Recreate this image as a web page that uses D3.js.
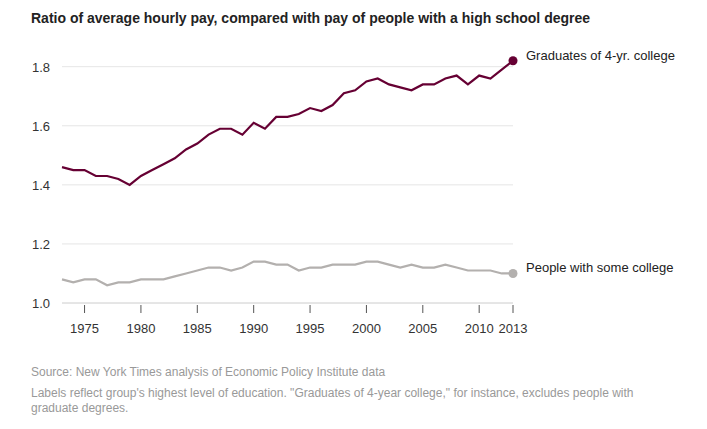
<!DOCTYPE html>
<html><head><meta charset="utf-8">
<script src="https://cdn.jsdelivr.net/npm/d3@7"></script>
<style>body{margin:0;background:#fff;font-family:Arial,"Liberation Sans",sans-serif;}</style>
</head><body><div id="chart"></div>
<script>
const years = d3.range(1973, 2014);
const college = [1.46,1.45,1.45,1.43,1.43,1.42,1.40,1.43,1.45,1.47,1.49,1.52,1.54,1.57,1.59,1.59,1.57,1.61,1.59,1.63,1.63,1.64,1.66,1.65,1.67,1.71,1.72,1.75,1.76,1.74,1.73,1.72,1.74,1.74,1.76,1.77,1.74,1.77,1.76,1.79,1.82];
const someCollege = [1.08,1.07,1.08,1.08,1.06,1.07,1.07,1.08,1.08,1.08,1.09,1.10,1.11,1.12,1.12,1.11,1.12,1.14,1.14,1.13,1.13,1.11,1.12,1.12,1.13,1.13,1.13,1.14,1.14,1.13,1.12,1.13,1.12,1.12,1.13,1.12,1.11,1.11,1.11,1.10,1.10];
const xTicks = [1975,1980,1985,1990,1995,2000,2005,2010,2013];
const yTicks = [1.0,1.2,1.4,1.6,1.8];

const svg = d3.select("#chart").append("svg").attr("width",707).attr("height",429);
const x = d3.scaleLinear().domain([1973,2013]).range([62,513]);
const y = d3.scaleLinear().domain([1.0,1.8]).range([303,66.7]);

svg.append("text").attr("x",31).attr("y",23).attr("font-size",14).attr("font-weight","bold")
  .attr("fill","#222").text("Ratio of average hourly pay, compared with pay of people with a high school degree");

yTicks.forEach(t => {
  svg.append("line").attr("x1",62).attr("x2",513).attr("y1",y(t)).attr("y2",y(t))
    .attr("stroke", t===1.0 ? "#ccc" : "#e6e6e6").attr("stroke-width",1);
  svg.append("text").attr("x",32).attr("y",y(t)+5).attr("font-size",13).attr("fill","#333").text(t.toFixed(1));
});
xTicks.forEach(t => {
  svg.append("line").attr("x1",x(t)).attr("x2",x(t)).attr("y1",305).attr("y2",313).attr("stroke","#555");
  svg.append("text").attr("x",x(t)).attr("y",333).attr("text-anchor","middle").attr("font-size",13).attr("fill","#333").text(t);
});

const line = d3.line().x((d,i)=>x(years[i])).y(d=>y(d));
const series = [
  {vals: someCollege, color:"#b3b0ae", label:"People with some college"},
  {vals: college, color:"#660033", label:"Graduates of 4-yr. college"}
];
series.forEach(s => {
  svg.append("path").datum(s.vals).attr("d",line).attr("fill","none").attr("stroke",s.color).attr("stroke-width",2.2);
  const last = s.vals[s.vals.length-1];
  svg.append("circle").attr("cx",x(2013)).attr("cy",y(last)).attr("r",4.5).attr("fill",s.color);
  svg.append("text").attr("x",526).attr("y",y(last)-1).attr("font-size",13).attr("fill","#222").text(s.label);
});

svg.append("text").attr("x",31).attr("y",376).attr("font-size",12).attr("fill","#999")
  .text("Source: New York Times analysis of Economic Policy Institute data");
svg.append("text").attr("x",31).attr("y",397).attr("font-size",12).attr("fill","#999")
  .text("Labels reflect group's highest level of education. \"Graduates of 4-year college,\" for instance, excludes people with");
svg.append("text").attr("x",31).attr("y",412).attr("font-size",12).attr("fill","#999").text("graduate degrees.");
</script></body></html>
